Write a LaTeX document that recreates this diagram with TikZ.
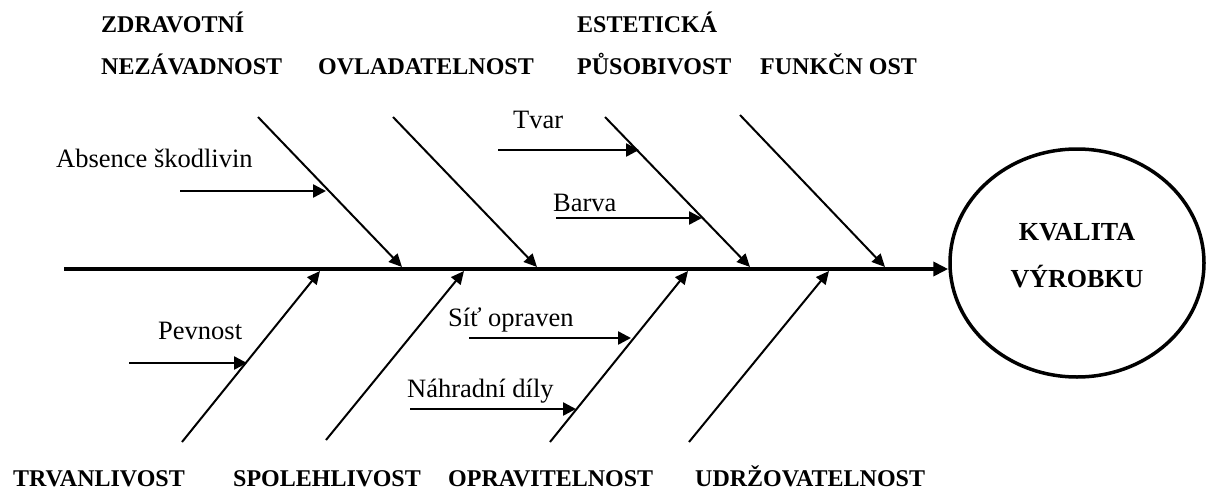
\documentclass[tikz,border=0pt]{standalone}
\usepackage{fontspec}
\setmainfont{Liberation Serif}
\usetikzlibrary{arrows.meta,shapes.geometric}
\begin{document}
\begin{tikzpicture}[x=1pt,y=-1pt,
  branch/.style={line width=2pt, -{Triangle[length=13pt,width=12pt]}},
  sub/.style={line width=2.5pt, -{Triangle[length=13pt,width=13pt]}},
  spineline/.style={line width=4pt, -{Triangle[length=15pt,width=14pt]}},
  cat/.style={font=\fontsize{24}{28}\selectfont\bfseries, inner sep=0pt, anchor=base west},
  cause/.style={font=\fontsize{26.5}{30}\selectfont, inner sep=0pt, anchor=base west},
  goalshape/.style={draw, ellipse, line width=3.5pt, minimum width=254pt, minimum height=228pt, inner sep=0pt},
  goaltext/.style={font=\fontsize{26}{30}\selectfont\bfseries, inner sep=0pt, anchor=base}
]
\useasboundingbox (0,0) rectangle (1213,490);

% goal
\node[goalshape] (goal) at (1077,263) {};
\node[goaltext] (kv1) at (1077,240) {KVALITA};
\node[goaltext] (kv2) at (1077,287) {VÝROBKU};

% spine
\coordinate (s0) at (64,269);
\draw[spineline] (s0) -- (s0 -| goal.west);

% top category labels
\node[cat] (zdr1) at (101,32) {ZDRAVOTNÍ};
\node[cat] (zdr2) at (101,74) {NEZÁVADNOST};
\node[cat] (ovl) at (318,74) {OVLADATELNOST};
\node[cat] (est1) at (577,32) {ESTETICKÁ};
\node[cat] (est2) at (577,74) {PŮSOBIVOST};
\node[cat] (fun) at (760,74) {FUNKČN OST};

% bottom category labels
\node[cat] (trv) at (13,486) {TRVANLIVOST};
\node[cat] (spo) at (233,486) {SPOLEHLIVOST};
\node[cat] (opr) at (448,486) {OPRAVITELNOST};
\node[cat] (udr) at (695,486) {UDRŽOVATELNOST};

% top branches
\coordinate (t1a) at (258,117); \coordinate (t1b) at (402,267);
\coordinate (t2a) at (393,117); \coordinate (t2b) at (537,267);
\coordinate (t3a) at (605,117); \coordinate (t3b) at (750,267);
\coordinate (t4a) at (740,115); \coordinate (t4b) at (885,267);
\draw[branch] (t1a) -- (t1b);
\draw[branch] (t2a) -- (t2b);
\draw[branch] (t3a) -- (t3b);
\draw[branch] (t4a) -- (t4b);

% bottom branches
\coordinate (b1a) at (182,442); \coordinate (b1b) at (320,271);
\coordinate (b2a) at (326,440); \coordinate (b2b) at (464,271);
\coordinate (b3a) at (550,442); \coordinate (b3b) at (688,271);
\coordinate (b4a) at (689,442); \coordinate (b4b) at (829,271);
\draw[branch] (b1a) -- (b1b);
\draw[branch] (b2a) -- (b2b);
\draw[branch] (b3a) -- (b3b);
\draw[branch] (b4a) -- (b4b);

% cause labels
\node[cause] (abs) at (56,167) {Absence škodlivin};
\node[cause] (tvar) at (513,128) {Tvar};
\node[cause] (barva) at (553,211) {Barva};
\node[cause] (pev) at (158,339) {Pevnost};
\node[cause] (sit) at (448,326) {Síť opraven};
\node[cause] (nah) at (407,397) {Náhradní díly};

% cause arrows
\coordinate (absA) at (180,191); \coordinate (absB) at (326,191);
\coordinate (tvarA) at (498,150); \coordinate (tvarB) at (639,150);
\coordinate (barA) at (556,218); \coordinate (barB) at (702,218);
\coordinate (pevA) at (129,363); \coordinate (pevB) at (247,363);
\coordinate (sitA) at (469,338); \coordinate (sitB) at (631,338);
\coordinate (nahA) at (410,409); \coordinate (nahB) at (576,409);
\draw[sub] (absA) -- (absB);
\draw[sub] (tvarA) -- (tvarB);
\draw[sub] (barA) -- (barB);
\draw[sub] (pevA) -- (pevB);
\draw[sub] (sitA) -- (sitB);
\draw[sub] (nahA) -- (nahB);
\end{tikzpicture}
\end{document}
